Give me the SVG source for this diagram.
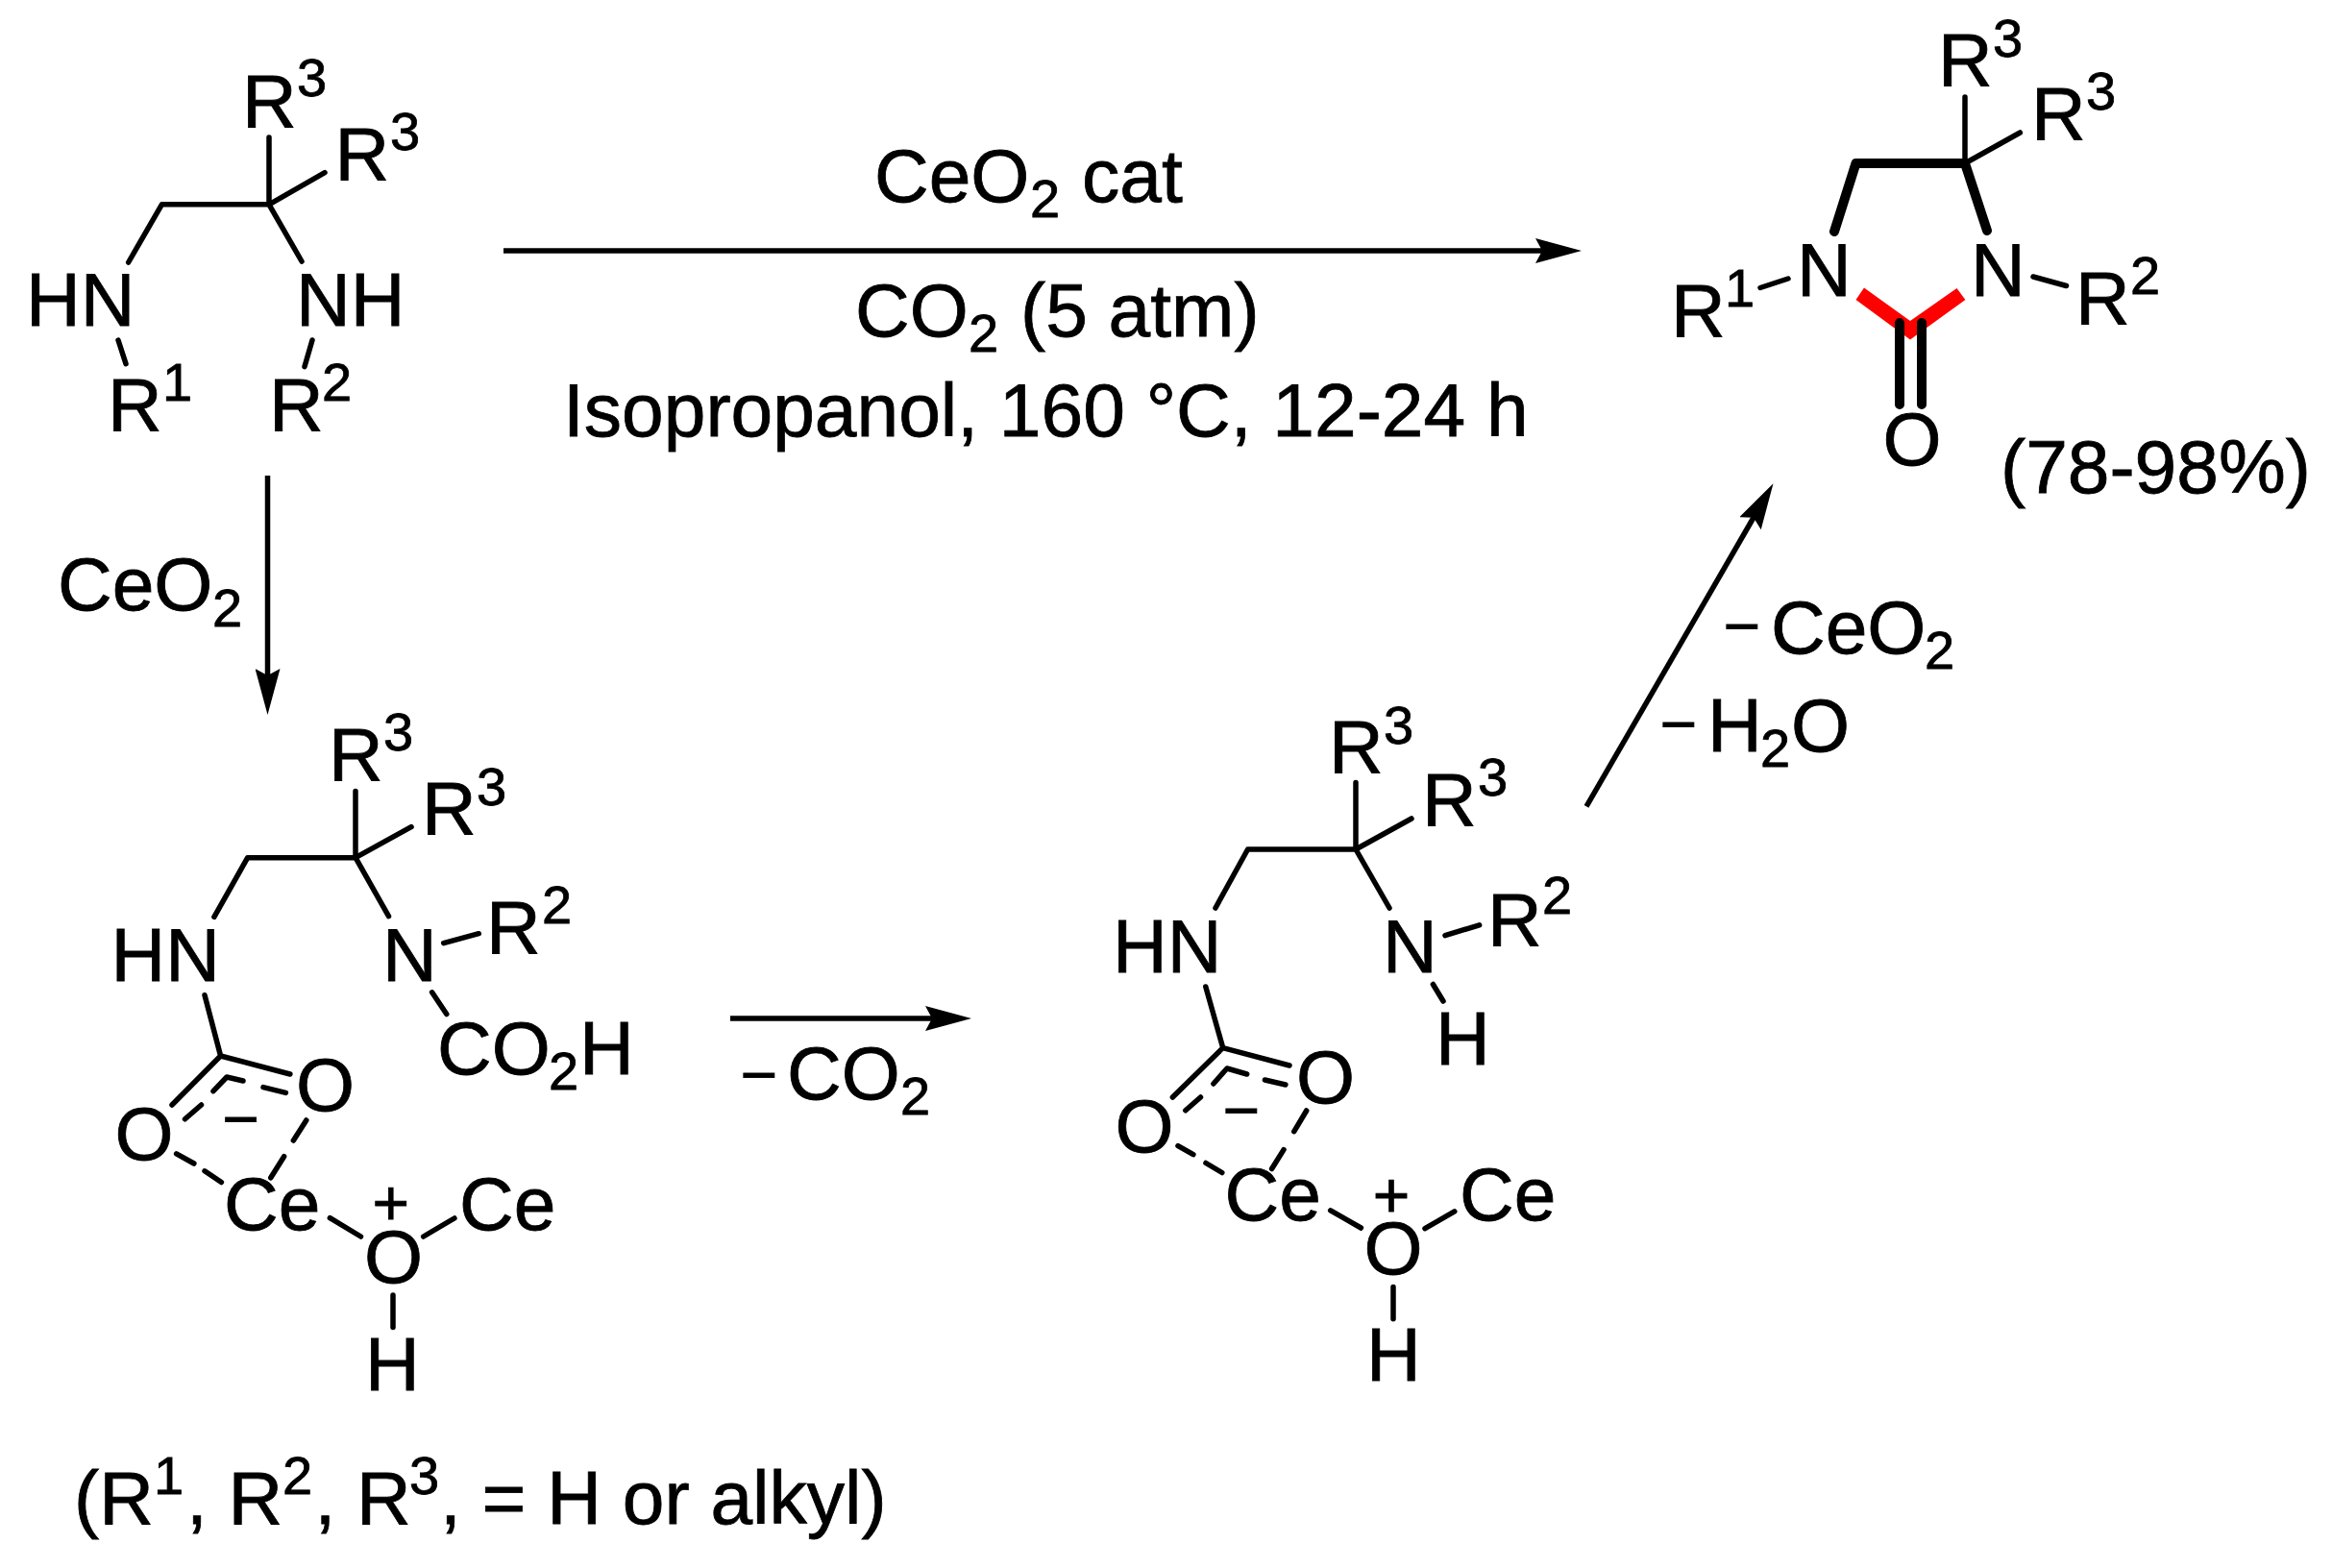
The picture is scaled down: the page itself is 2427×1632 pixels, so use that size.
<svg xmlns="http://www.w3.org/2000/svg" width="2427" height="1632" viewBox="0 0 2427 1632">
<style>
text{font-family:"Liberation Sans",Arial,sans-serif;font-size:78.500px;fill:#000;stroke:#000;stroke-width:.8}
.s{font-size:56px}
.c{font-size:66px}
.b{stroke:#000;stroke-width:5.500;stroke-linecap:round;stroke-linejoin:round;fill:none}
.h{stroke:#000;stroke-width:10;stroke-linecap:round;stroke-linejoin:round;fill:none}
.a{stroke:#000;stroke-width:5.500;fill:none;marker-end:url(#head)}
</style>
<defs>
<marker id="head" markerUnits="userSpaceOnUse" viewBox="0 0 48 26" refX="28" refY="13" markerWidth="48" markerHeight="26" orient="auto">
<path d="M0 0L48 13L0 26L7 13Z" fill="#000"/>
</marker>
</defs>
<rect width="2427" height="1632" fill="#fff"/>

<g id="connectors">
<line class="a" x1="524" y1="261" x2="1626" y2="261"/>
<line class="a" x1="278.500" y1="495" x2="278.500" y2="724"/>
<line class="a" x1="760" y1="1060" x2="991" y2="1060"/>
<line class="a" x1="1651" y1="839.400" x2="1835.500" y2="520.500"/>
</g>

<g id="diamine">
<path class="b" d="M133.700 273L168.400 212.800H280M280 143V212.800L338 179.600M280 212.800L314 272M123 354L131 378.600M325 354L317 381.600"/>
<text x="252" y="131.600">R<tspan class="s" x="309" y="99.500">3</tspan></text>
<text x="348.500" y="187">R<tspan class="s" x="406" y="155.600">3</tspan></text>
<text x="27" y="339">HN</text>
<text x="308" y="339">NH</text>
<text x="112" y="448">R<tspan class="s" x="169" y="417">1</tspan></text>
<text x="280" y="448">R<tspan class="s" x="335" y="417">2</tspan></text>
</g>

<g id="label-ceo2">
<text x="60" y="635">CeO<tspan class="s" x="221" y="651.500">2</tspan></text>
</g>

<g id="conditions">
<text x="910" y="210">CeO<tspan class="s" x="1072" y="226">2</tspan><tspan x="1126" y="210">cat</tspan></text>
<text x="890" y="350">CO<tspan class="s" x="1008" y="366">2</tspan><tspan x="1062" y="350">(5 atm)</tspan></text>
<text x="586" y="454">Isopropanol, 160 °C, 12-24 h</text>
</g>

<g id="product">
<path class="h" d="M1909 241L1931.500 170H2045L2068 240"/>
<polygon points="1940,299.500 1931.500,312 1988,353.600 2045.400,312 2036.500,300 1988,334" fill="#f00"/>
<path class="h" d="M1977 336V421M2000 336V421"/>
<path class="b" d="M2045 101V170L2102.400 138M1832 299.500L1861 290M2116 288L2150.500 297.500"/>
<text x="2017" y="89">R<tspan class="s" x="2074" y="58.700">3</tspan></text>
<text x="2114" y="145.400">R<tspan class="s" x="2171" y="113.800">3</tspan></text>
<text x="1870" y="307.600">N</text>
<text x="2051" y="307.600">N</text>
<text x="1739" y="349.500">R<tspan class="s" x="1795" y="319">1</tspan></text>
<text x="2160" y="336.700">R<tspan class="s" x="2217" y="306">2</tspan></text>
<text x="1959.500" y="484">O</text>
</g>

<g id="yield">
<text x="2082" y="513">(78-98%)</text>
</g>

<g id="intermediate-a">
<path class="b" d="M222.900 954.300L257.700 892.700H370M370 823.500V892.700L428 860.700M370 892.700L404.500 953.700M461.700 981.600L498.300 971.700M449.600 1032.800L464.800 1055.500M213 1035.700L229.600 1099L301.900 1118M229.600 1099L179 1150M192.500 1164.800L209.500 1150M222 1135.700L236 1121L253 1125M274 1131.600L297.400 1137.400M183.600 1200.800L201.900 1211M213 1218.800L230.400 1230.500M318.800 1166L305.400 1187M295.600 1203.700L281.800 1225.800M343.400 1267.700L375.500 1287M440.700 1287L472.900 1268M409 1348V1381.600"/>
<text x="342" y="811.900">R<tspan class="s" x="399" y="781">3</tspan></text>
<text x="439" y="868">R<tspan class="s" x="496" y="838">3</tspan></text>
<text x="115.500" y="1021">HN</text>
<text x="398" y="1021">N</text>
<text x="506" y="992">R<tspan class="s" x="564" y="961">2</tspan></text>
<text x="455" y="1118">CO<tspan class="s" x="571" y="1134">2</tspan><tspan x="603" y="1118">H</tspan></text>
<text x="308" y="1156">O</text>
<text x="119.500" y="1207">O</text>
<text class="c" x="231.500" y="1186.500">−</text>
<text x="233" y="1280">Ce</text>
<text x="478" y="1280">Ce</text>
<text class="c" x="387.500" y="1274.800">+</text>
<text x="379" y="1335">O</text>
<text x="380" y="1447">H</text>
</g>

<g id="label-co2">
<text class="c" x="770.700" y="1141">−</text>
<text x="819" y="1144">CO<tspan class="s" x="937" y="1160">2</tspan></text>
</g>

<g id="intermediate-b">
<path class="b" d="M1265 945L1298.600 884H1411M1411 814.500V884L1469 852M1411 884L1446 945M1504 973.700L1539.600 962.800M1491.400 1024.500L1502 1042M1254.800 1027L1272.700 1090.600L1342 1109M1272.700 1090.600L1220.400 1142M1233.800 1155.800L1249.500 1142M1262.900 1128L1277 1112L1297.700 1118M1316.400 1124L1337.900 1129M1226 1192.600L1241.900 1201.600M1255 1210.500L1271.800 1220.500M1359.700 1156L1346.800 1177.700M1336 1196.600L1323.600 1216.500M1384.700 1259.800L1416.400 1278M1483 1278.700L1513.800 1260.800M1450 1339.400V1372.700"/>
<text x="1383" y="803.600">R<tspan class="s" x="1440" y="773.700">3</tspan></text>
<text x="1480" y="859">R<tspan class="s" x="1538" y="828">3</tspan></text>
<text x="1158" y="1012">HN</text>
<text x="1439" y="1012">N</text>
<text x="1548" y="983.700">R<tspan class="s" x="1605" y="951">2</tspan></text>
<text x="1494" y="1108">H</text>
<text x="1349" y="1148">O</text>
<text x="1160.500" y="1198.600">O</text>
<text class="c" x="1272.700" y="1177.500">−</text>
<text x="1274.500" y="1270">Ce</text>
<text x="1519" y="1270">Ce</text>
<text class="c" x="1428.700" y="1266.800">+</text>
<text x="1419.500" y="1326">O</text>
<text x="1422" y="1437">H</text>
</g>

<g id="label-ceo2-h2o">
<text class="c" x="1793.700" y="673.500">−</text>
<text x="1843" y="680">CeO<tspan class="s" x="2003" y="696.400">2</tspan></text>
<text class="c" x="1727.700" y="775.500">−</text>
<text x="1777" y="782">H<tspan class="s" x="1832" y="798">2</tspan><tspan x="1864" y="782">O</tspan></text>
</g>

<g id="footnote">
<text x="77" y="1586">(R<tspan class="s" x="160" y="1555">1</tspan><tspan x="194" y="1586">, R</tspan><tspan class="s" x="294" y="1555">2</tspan><tspan x="327.400" y="1586">, R</tspan><tspan class="s" x="426" y="1555">3</tspan><tspan x="458" y="1586">, = H or alkyl)</tspan></text>
</g>
</svg>
